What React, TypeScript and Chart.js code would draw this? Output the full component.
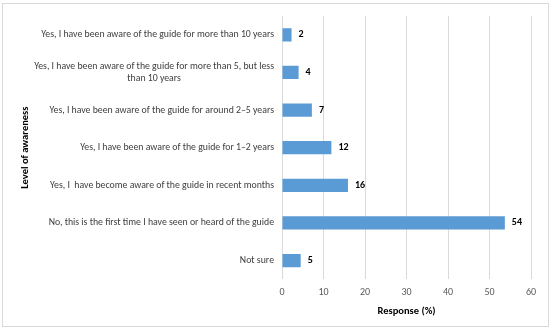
import React, { useEffect, useRef } from "react";
import { Chart, registerables } from "chart.js";

Chart.register(...registerables);

const categories: (string | string[])[] = [
  "Yes, I have been aware of the guide for more than 10 years",
  ["Yes, I have been aware of the guide for more than 5, but less", "than 10 years"],
  "Yes, I have been aware of the guide for around 2–5 years",
  "Yes, I have been aware of the guide for 1–2 years",
  "Yes, I  have become aware of the guide in recent months",
  "No, this is the first time I have seen or heard of the guide",
  "Not sure",
];
const responses = [2.3, 4, 7.2, 11.9, 15.9, 53.7, 4.5];
const valueLabels = ["2", "4", "7", "12", "16", "54", "5"];
const xTicks = [0, 10, 20, 30, 40, 50, 60];

const FONT = "Carlito, Calibri, Lato, sans-serif";

const labelPlugin = {
  id: "customLabels",
  afterDraw(chart: any) {
    const ctx = chart.ctx;
    const yScale = chart.scales.y;
    ctx.save();
    ctx.fillStyle = "#404040";
    ctx.font = `9.8px ${FONT}`;
    ctx.textBaseline = "middle";
    ctx.textAlign = "center";
    const lh = 12;
    categories.forEach((c, i) => {
      const lines = Array.isArray(c) ? c : [c];
      const py = yScale.getPixelForTick(i);
      const maxW = Math.max(...lines.map((l) => ctx.measureText(l).width));
      const right = yScale.right - 8;
      const start = py - ((lines.length - 1) * lh) / 2;
      lines.forEach((l, j) => {
        ctx.fillText(l, right - maxW / 2, start + j * lh);
      });
    });
    const meta = chart.getDatasetMeta(0);
    ctx.font = `bold 10px ${FONT}`;
    ctx.fillStyle = "#000000";
    ctx.textAlign = "left";
    meta.data.forEach((bar: any, i: number) => {
      ctx.fillText(valueLabels[i], bar.x + 7, bar.y);
    });
    ctx.restore();
  },
};

export default function App() {
  const ref = useRef<HTMLCanvasElement>(null);
  useEffect(() => {
    const chart = new Chart(ref.current!, {
      type: "bar",
      data: {
        labels: categories.map((c) => (Array.isArray(c) ? c.join(" ") : c)),
        datasets: [
          {
            data: responses,
            backgroundColor: "#5B9BD5",
            borderWidth: 0,
            barPercentage: 0.35,
            categoryPercentage: 1,
          },
        ],
      },
      options: {
        indexAxis: "y",
        animation: false,
        responsive: false,
        maintainAspectRatio: false,
        layout: { padding: { top: 12, right: 17, bottom: 8, left: 0 } },
        plugins: { legend: { display: false }, tooltip: { enabled: false } },
        scales: {
          x: {
            min: 0,
            max: 60,
            afterBuildTicks: (s: any) => {
              s.ticks = xTicks.map((v) => ({ value: v }));
            },
            ticks: { color: "#595959", font: { size: 10, family: FONT }, padding: 7 },
            grid: { color: "#d9d9d9", drawTicks: false },
            border: { display: false },
            title: {
              display: true,
              text: "Response (%)",
              color: "#000000",
              font: { size: 10.5, weight: "bold", family: FONT },
              padding: { top: 0, bottom: 0 },
            },
          },
          y: {
            ticks: { display: false },
            grid: { display: false },
            border: { display: false },
            afterFit: (s: any) => {
              s.width = 279;
            },
            title: {
              display: true,
              text: "Level of awareness",
              color: "#000000",
              font: { size: 10.5, weight: "bold", family: FONT },
              padding: { top: 16, bottom: 0 },
            },
          },
        },
      },
      plugins: [labelPlugin],
    });
    return () => chart.destroy();
  }, []);
  return (
    <div
      style={{
        position: "fixed",
        left: 2,
        top: 3,
        width: 545,
        height: 322,
        border: "1px solid #d9d9d9",
        background: "#fff",
      }}
    >
      <canvas ref={ref} width={545} height={322} style={{ display: "block" }} />
    </div>
  );
}
